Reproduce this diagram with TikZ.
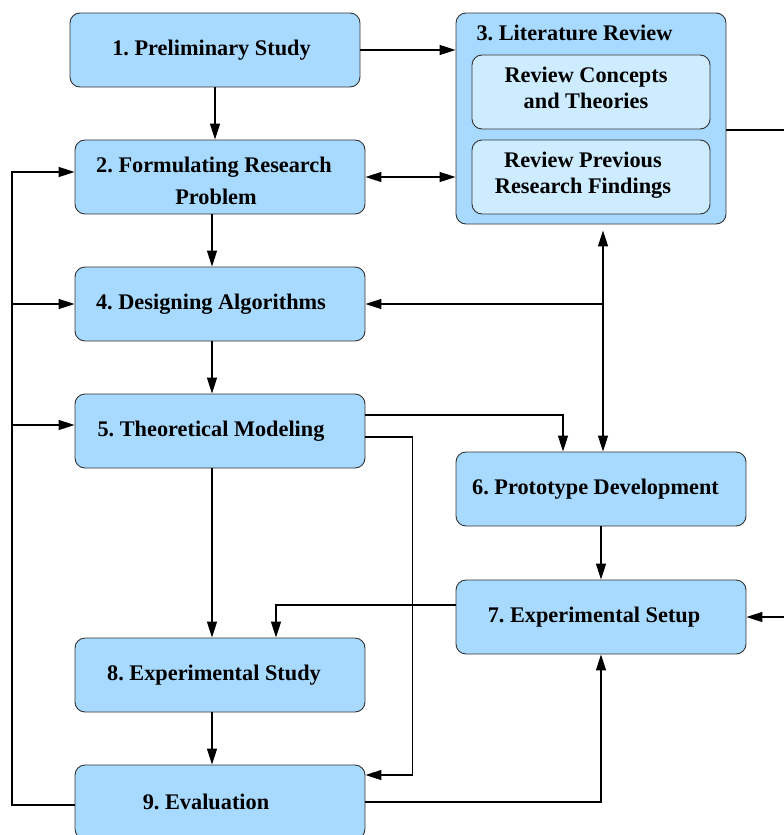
\documentclass[tikz,border=0pt]{standalone}
\usepackage{fontspec}
\setmainfont{Liberation Serif}
\usetikzlibrary{arrows.meta}
\definecolor{stepblue}{RGB}{168,218,255}
\definecolor{subblue}{RGB}{206,236,255}
\newcommand{\stagefont}{\fontsize{22.3}{26}\selectfont\bfseries\frenchspacing}
\newcommand{\padr}[1]{\kern#1pt}

\begin{document}
\begin{tikzpicture}[x=1pt,y=-1pt]
% Diagram style
\tikzset{
    stage/.style={draw=black!80, line width=0.9pt, fill=stepblue, rounded corners=10pt,
        minimum width=290pt, minimum height=74pt, align=center, font=\stagefont},
    substage/.style={stage, fill=subblue, minimum width=238pt},
    link/.style={line width=1.4pt, -{Triangle[length=16pt,width=10pt]}},
    link2/.style={line width=1.4pt, {Triangle[length=16pt,width=10pt]}-{Triangle[length=16pt,width=10pt]}}
}
\useasboundingbox (0,0) rectangle (784,835);
\clip (0,0) rectangle (784,835);
% Stages
\node[stage] (PS) at (215,50) {1. Preliminary Study\padr{7}};
\node[stage] (FRP) at (220,177) {\rule{0pt}{24pt}2. Formulating Research\padr{12}\\[6pt]Problem\padr{8}};
\node[stage, minimum width=270pt, minimum height=211pt] (LR) at (591,118.5) {};
\node[anchor=west, font=\stagefont] (LRt) at (473,33) {3. Literature Review};
\node[substage] (LRa) at (591,92) {Review Concepts\padr{10}\\and Theories\padr{10}\rule[-8pt]{0pt}{8pt}};
\node[substage] (LRb) at (591,177) {Review Previous\padr{16}\\Research Findings\padr{16}\rule[-9pt]{0pt}{9pt}};
\node[stage] (DA) at (220,304) {4. Designing Algorithms\padr{18}};
\node[stage] (TM) at (220,431) {5. Theoretical Modeling\padr{18}};
\node[stage] (PD) at (601,489) {6. Prototype Development\padr{11}};
\node[stage] (ES) at (601,617) {7. Experimental Setup\padr{14}};
\node[stage] (EXS) at (220,675) {8. Experimental Study\padr{12}};
\node[stage] (EV) at (220,802) {9. Evaluation\padr{28}};
% Connections
\draw[link] (PS.east) -- (PS.east -| LR.west);
\draw[link] (PS.south) -- (PS.south |- FRP.north);
\draw[link2] (FRP.east) -- (FRP.east -| LR.west);
\draw[link] ([xshift=-8pt]FRP.south) -- ([xshift=-8pt]DA.north);
\draw[link] ([xshift=-8pt]DA.south) -- ([xshift=-8pt]TM.north);
\draw[link] ([xshift=-8pt]TM.south) -- ([xshift=-8pt]EXS.north);
\draw[link] ([xshift=-8pt]EXS.south) -- ([xshift=-8pt]EV.north);
% Feedback from evaluation
\coordinate (back) at (12,0);
\draw[link] ([yshift=-3pt]EV.west) -| ([yshift=5pt]back |- FRP.west) -- ([yshift=5pt]FRP.west);
\draw[link] (back |- DA.west) -- (DA.west);
\draw[link] ([yshift=6pt]back |- TM.west) -- ([yshift=6pt]TM.west);
% Literature review links
\coordinate (hub) at (603,304);
\draw[link2, shorten <=6pt] (LR.south -| hub) -- (PD.north -| hub);
\draw[link] (hub) -- (DA.east);
\draw[link] ([yshift=-11.5pt]LR.east) -- ++(70,0) |- (ES.east);
% Right column
\draw[link] ([yshift=16pt]TM.east) -| ([xshift=-38pt]PD.north);
\draw[link] ([yshift=-6pt]TM.east) -| ([xshift=47pt,yshift=27pt]EV.east) -- ([yshift=27pt]EV.east);
\draw[link] (PD) -- (ES);
\draw[link] ([yshift=12pt]ES.west) -| ([xshift=56pt]EXS.north);
\draw[link] (EV.east) -| (ES.south);
\end{tikzpicture}
\end{document}
